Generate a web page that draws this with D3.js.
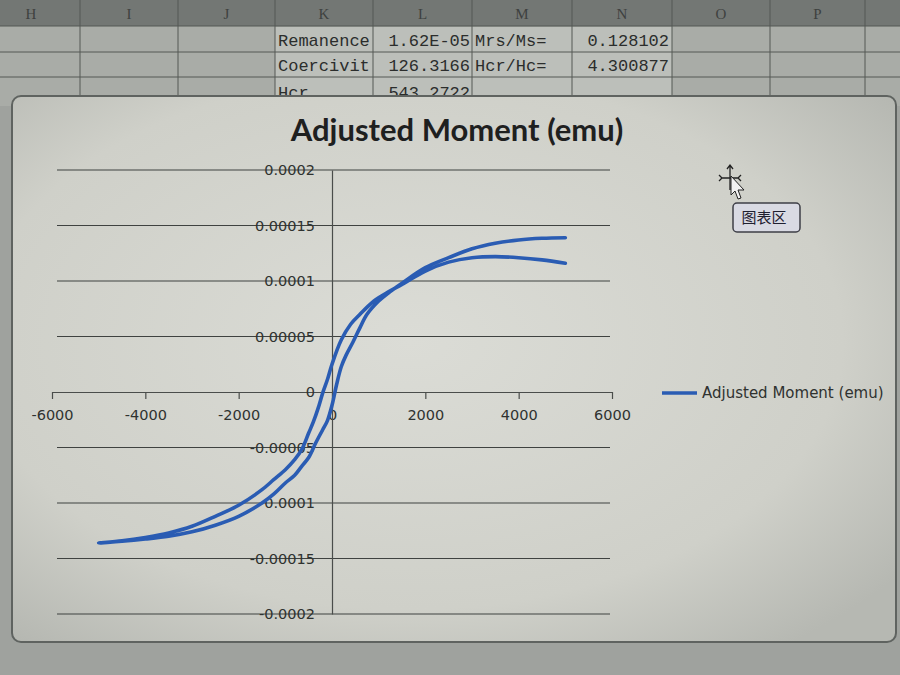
<!DOCTYPE html>
<html>
<head>
<meta charset="utf-8">
<script src="https://cdn.jsdelivr.net/npm/d3@7"></script>
<style>
    html, body { margin: 0; padding: 0; background: #9fa29e; }
    svg { display: block; }
</style>
</head>
<body>
<main></main>
<script>
const width = 900;
const height = 675;

// descending branch, +5000 Oe down to -5000 Oe
const fieldDown = [5000, 4500, 4000, 3500, 3000, 2500, 2000, 1500, 1200, 900, 600, 400, 200, 0,
                   -100, -200, -300, -400, -500, -650, -800, -1000, -1250, -1500, -2000, -2500,
                   -3000, -3500, -4000, -4500, -5000];
const momentDown = [11.6e-5, 11.9e-5, 12.1e-5, 12.2e-5, 12.1e-5, 11.7e-5, 10.9e-5, 9.7e-5, 9.0e-5,
                    8.2e-5, 7.0e-5, 6.1e-5, 4.7e-5, 2.5e-5, 1.1e-5, -0.1e-5, -1.5e-5, -2.7e-5,
                    -3.7e-5, -5.2e-5, -6.1e-5, -7.0e-5, -7.9e-5, -8.8e-5, -10.2e-5, -11.2e-5,
                    -12.1e-5, -12.7e-5, -13.1e-5, -13.4e-5, -13.6e-5];
// ascending branch, -5000 Oe back up to +5000 Oe
const fieldUp = [-4500, -4000, -3500, -3000, -2500, -2000, -1500, -1250, -1000, -800, -650, -500,
                 -350, -200, -100, 0, 100, 200, 300, 450, 600, 750, 1000, 1200, 1500, 2000, 2500,
                 3000, 3500, 4000, 4500, 5000];
const momentUp = [-13.45e-5, -13.25e-5, -13.0e-5, -12.6e-5, -12.0e-5, -11.2e-5, -10.0e-5, -9.2e-5,
                  -8.2e-5, -7.5e-5, -6.7e-5, -5.9e-5, -4.6e-5, -3.4e-5, -2.6e-5, -1.2e-5, 0.7e-5,
                  2.3e-5, 3.3e-5, 4.5e-5, 5.8e-5, 7.0e-5, 8.2e-5, 8.9e-5, 9.8e-5, 11.2e-5, 12.1e-5,
                  12.9e-5, 13.4e-5, 13.7e-5, 13.85e-5, 13.9e-5];

const xTicks = [-6000, -4000, -2000, 0, 2000, 4000, 6000];
const xTickLabels = ["-6000", "-4000", "-2000", "0", "2000", "4000", "6000"];
const yTicks = [0.0002, 0.00015, 0.0001, 0.00005, 0, -0.00005, -0.0001, -0.00015, -0.0002];
const yTickLabels = ["0.0002", "0.00015", "0.0001", "0.00005", "0", "-0.00005", "-0.0001", "-0.00015", "-0.0002"];

const chartTitle = "Adjusted Moment (emu)";
const seriesName = "Adjusted Moment (emu)";

// spreadsheet behind the chart
const columnLetters = ["H", "I", "J", "K", "L", "M", "N", "O", "P"];
const cellRows = [
    ["Remanence", "1.62E-05", "Mrs/Ms=", "0.128102"],
    ["Coercivit", "126.3166", "Hcr/Hc=", "4.300877"],
    ["Hcr", "543.2722", "", ""]
];

const createCanvas = () => {
    return d3.select("main")
             .append("svg")
             .attr("width", width)
             .attr("height", height);
};

const drawSheet = (svg) => {
    const colEdges = [-18, 80, 178, 275, 373, 472, 572, 672, 770, 865, 960];
    const g = svg.append("g").attr("id", "sheet");

    g.append("rect")
     .attr("x", 0).attr("y", 0)
     .attr("width", width).attr("height", 26)
     .attr("fill", "#737774");
    g.append("rect")
     .attr("x", 0).attr("y", 26)
     .attr("width", width).attr("height", 80)
     .attr("fill", "#a9aca7");
    g.append("rect")
     .attr("x", 275).attr("y", 27)
     .attr("width", 397).attr("height", 70)
     .attr("fill", "#bcbfba");

    colEdges.forEach(x => {
        g.append("line")
         .attr("x1", x).attr("x2", x)
         .attr("y1", 0).attr("y2", 100)
         .attr("stroke", "#555955");
    });
    [26, 52, 77].forEach(y => {
        g.append("line")
         .attr("x1", 0).attr("x2", width)
         .attr("y1", y).attr("y2", y)
         .attr("stroke", "#555955");
    });

    columnLetters.forEach((c, i) => {
        g.append("text")
         .attr("x", (colEdges[i] + colEdges[i + 1]) / 2)
         .attr("y", 19)
         .attr("text-anchor", "middle")
         .attr("font-family", "Liberation Serif")
         .attr("font-size", 15)
         .attr("fill", "#3e413f")
         .text(c);
    });

    cellRows.forEach((row, r) => {
        const y = 46 + r * 25;
        const cells = [
            {text: row[0], x: 278, anchor: "start"},
            {text: row[1], x: 470, anchor: "end"},
            {text: row[2], x: 475, anchor: "start"},
            {text: row[3], x: 669, anchor: "end"}
        ];
        cells.forEach(c => {
            g.append("text")
             .attr("x", c.x)
             .attr("y", r === 2 ? y + 2 : y)
             .attr("text-anchor", c.anchor)
             .attr("font-family", "Liberation Mono")
             .attr("font-size", 17)
             .attr("fill", "#2b2d2c")
             .text(c.text);
        });
    });
};

const drawPanel = (svg) => {
    const grad = svg.append("defs")
                    .append("radialGradient")
                    .attr("id", "shade")
                    .attr("cx", "45%").attr("cy", "45%").attr("r", "70%");
    grad.append("stop").attr("offset", "0%").attr("stop-color", "#dbdcd6");
    grad.append("stop").attr("offset", "70%").attr("stop-color", "#cfd0c9");
    grad.append("stop").attr("offset", "100%").attr("stop-color", "#b6b8b2");

    svg.append("rect")
       .attr("x", 12).attr("y", 96)
       .attr("width", 884).attr("height", 546)
       .attr("rx", 9)
       .attr("fill", "url(#shade)")
       .attr("stroke", "#5f6360")
       .attr("stroke-width", 2);
};

const calculateScales = () => {
    const xScale = d3.scaleLinear()
                     .domain([-6000, 6000])
                     .range([52, 612]);
    const yScale = d3.scaleLinear()
                     .domain([-0.0002, 0.0002])
                     .range([614, 170]);
    return {xScale, yScale};
};

const createAxes = (scales, svg) => {
    // horizontal gridlines
    svg.append("g")
       .attr("id", "grid")
       .selectAll("line")
       .data(yTicks.filter(d => d !== 0))
       .enter()
       .append("line")
       .attr("x1", 57)
       .attr("x2", 610)
       .attr("y1", d => scales.yScale(d))
       .attr("y2", d => scales.yScale(d))
       .attr("stroke", "#3f4240")
       .attr("stroke-width", 1.2);

    const xAxis = svg.append("g")
                     .attr("id", "x-axis")
                     .attr("transform", `translate(0, ${scales.yScale(0)})`)
                     .call(d3.axisBottom(scales.xScale)
                             .tickValues(xTicks)
                             .tickSize(7)
                             .tickSizeOuter(0)
                             .tickPadding(11)
                             .tickFormat((d, i) => xTickLabels[i]));

    const yAxis = svg.append("g")
                     .attr("id", "y-axis")
                     .attr("transform", `translate(${scales.xScale(0)}, 0)`)
                     .call(d3.axisLeft(scales.yScale)
                             .tickValues(yTicks)
                             .tickSize(0)
                             .tickPadding(17)
                             .tickFormat((d, i) => yTickLabels[i]));

    [xAxis, yAxis].forEach(a => {
        a.select(".domain").attr("stroke", "#4a4d4b").attr("stroke-width", 1.2);
        a.selectAll(".tick line").attr("stroke", "#4a4d4b").attr("stroke-width", 1.2);
        a.selectAll(".tick text")
         .attr("font-family", "DejaVu Sans")
         .attr("font-size", 14.5)
         .attr("fill", "#2f3230");
    });
};

const drawSeries = (scales, svg) => {
    const points = fieldDown.map((h, i) => [h, momentDown[i]])
                            .concat(fieldUp.map((h, i) => [h, momentUp[i]]));
    const line = d3.line()
                   .x(d => scales.xScale(d[0]))
                   .y(d => scales.yScale(d[1]))
                   .curve(d3.curveCatmullRom.alpha(0.5));

    svg.append("path")
       .datum(points)
       .attr("d", line)
       .attr("fill", "none")
       .attr("stroke", "#2a5cb3")
       .attr("stroke-width", 3.6)
       .attr("stroke-linejoin", "round")
       .attr("stroke-linecap", "round");
};

const drawLabels = (svg) => {
    svg.append("text")
       .attr("x", 457)
       .attr("y", 141)
       .attr("text-anchor", "middle")
       .attr("font-family", "Lato")
       .attr("font-weight", "bold")
       .attr("font-size", 31)
       .attr("fill", "#1e201f")
       .text(chartTitle);

    svg.append("line")
       .attr("x1", 662).attr("x2", 697)
       .attr("y1", 393).attr("y2", 393)
       .attr("stroke", "#2a5cb3")
       .attr("stroke-width", 3.6);
    svg.append("text")
       .attr("x", 702)
       .attr("y", 393)
       .attr("dy", "0.35em")
       .attr("font-family", "DejaVu Sans")
       .attr("font-size", 15)
       .attr("fill", "#2f3230")
       .text(seriesName);
};

const drawTooltip = (svg) => {
    const g = svg.append("g").attr("id", "tooltip");
    // move cursor
    g.append("path")
     .attr("d", "M730,166 L730,190 M722,178 L738,178 M727,169 L730,165 L733,169 M719,175 L722,178 L719,181 M741,175 L738,178 M741,181 L738,178")
     .attr("stroke", "#222")
     .attr("stroke-width", 1.3)
     .attr("fill", "none");
    g.append("path")
     .attr("d", "M731,176 L731,195 L735,191 L738,199 L741,198 L738,190 L744,190 Z")
     .attr("fill", "#f2f2f2")
     .attr("stroke", "#222")
     .attr("stroke-width", 1);

    g.append("rect")
     .attr("x", 733).attr("y", 203)
     .attr("width", 67).attr("height", 29)
     .attr("rx", 4)
     .attr("fill", "#d9dae3")
     .attr("stroke", "#3e3f47")
     .attr("stroke-width", 1.5);
    g.append("text")
     .attr("x", 764)
     .attr("y", 218)
     .attr("dy", "0.35em")
     .attr("text-anchor", "middle")
     .attr("font-family", "Noto Sans CJK SC")
     .attr("font-size", 15)
     .attr("fill", "#1f2030")
     .text("图表区");
};

const driver = () => {
    const svg = createCanvas();
    drawSheet(svg);
    drawPanel(svg);
    const scales = calculateScales();
    createAxes(scales, svg);
    drawSeries(scales, svg);
    drawLabels(svg);
    drawTooltip(svg);
};

driver();
</script>
</body>
</html>
